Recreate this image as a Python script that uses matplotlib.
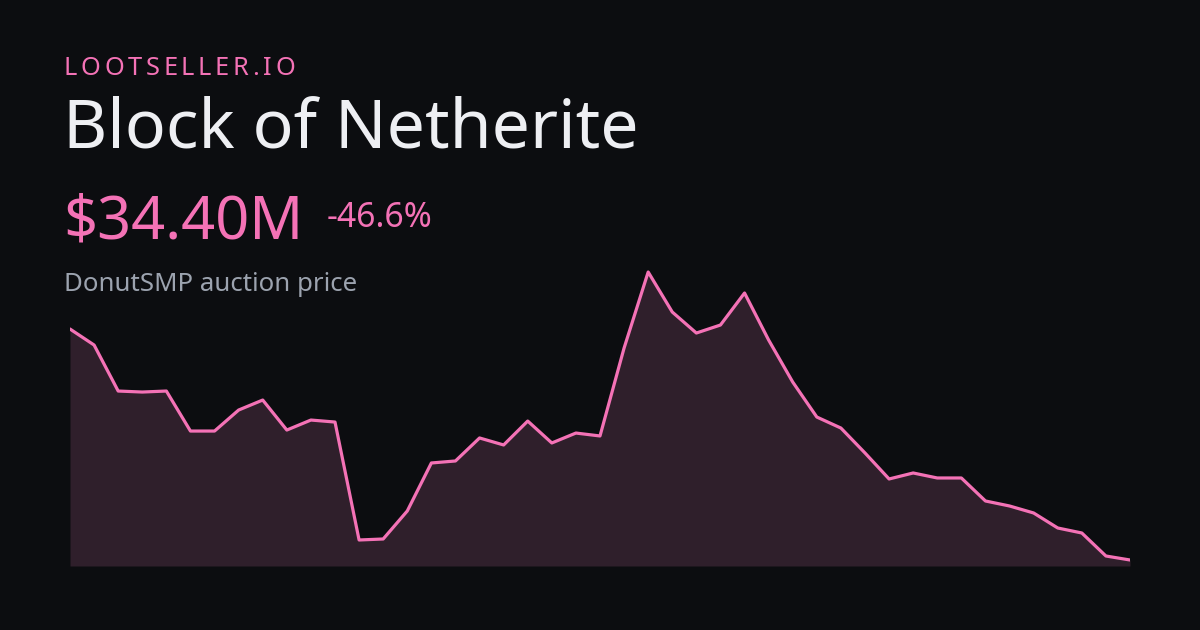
import matplotlib
matplotlib.use('Agg')
import matplotlib.pyplot as plt

BG = '#0c0d10'
PINK = '#f472b6'
FILL = '#2f1f2b'
WHITE = '#eeeff3'
GRAY = '#9ca3af'

# price in millions, one point per sample
prices = [64.42, 62.34, 56.36, 56.23, 56.36, 51.16, 51.16, 53.89, 55.19, 51.29,
          52.59, 52.33, 37.00, 37.13, 40.77, 47.01, 47.27, 50.26, 49.35, 52.46,
          49.61, 50.90, 50.52, 61.95, 71.83, 66.63, 63.90, 64.94, 69.10, 62.99,
          57.53, 52.98, 51.55, 48.31, 44.93, 45.71, 45.06, 45.06, 42.07, 41.42,
          40.51, 38.56, 37.91, 34.92, 34.40]
days = list(range(len(prices)))

brand = 'LOOTSELLER.IO'
item = 'Block of Netherite'
price_label = '$34.40M'
change_label = '-46.6%'
caption = 'DonutSMP auction price'

W, H = 1200, 630
plt.rcParams['font.family'] = ['Noto Sans', 'DejaVu Sans']

fig = plt.figure(figsize=(W / 100, H / 100), dpi=100, facecolor=BG)


def px(x, y):
    return x / W, 1 - y / H


# chart area
y_lo, y_hi = 33.62, 74.69
ax = fig.add_axes([70 / W, (H - 566) / H, 1060 / W, (566 - 250) / H])
ax.set_facecolor(BG)
ax.fill_between(days, prices, y_lo, color=FILL, linewidth=0)
ax.plot(days, prices, color=PINK, linewidth=2.3, solid_capstyle='round', solid_joinstyle='round')
ax.set_xlim(0, len(prices) - 1)
ax.set_ylim(y_lo, y_hi)
ax.axis('off')

# brand with letter spacing
renderer = fig.canvas.get_renderer()
x = 63.5
for ch in brand:
    t = fig.text(*px(x, 75), ch, color=PINK, fontsize=18.3, va='baseline', ha='left')
    w = t.get_window_extent(renderer).width
    x += w + 3.7

fig.text(*px(63, 147), item, color=WHITE, fontsize=49, va='baseline', ha='left')
fig.text(*px(63, 238), price_label, color=PINK, fontsize=42.9, va='baseline', ha='left')
fig.text(*px(327, 227), change_label, color=PINK, fontsize=24.3, va='baseline', ha='left')
fig.text(*px(64, 291), caption, color=GRAY, fontsize=18.6, va='baseline', ha='left')

fig.savefig('out.png', dpi=100, facecolor=BG)
